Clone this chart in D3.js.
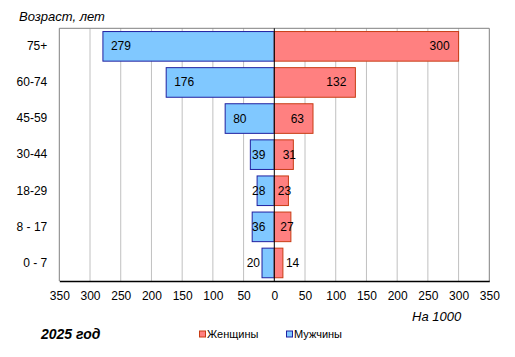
<!DOCTYPE html>
<html><head><meta charset="utf-8">
<script src="https://cdn.jsdelivr.net/npm/d3@7"></script>
<style>body{margin:0;background:#fff}svg{display:block;font-family:"Liberation Sans",Arial,sans-serif}</style>
</head><body>
<svg id="c" width="515" height="357"></svg>
<script>
const categories = ["75+", "60-74", "45-59", "30-44", "18-29", "8 - 17", "0 - 7"];
const women = [300, 132, 63, 31, 23, 27, 14];
const men = [279, 176, 80, 39, 28, 36, 20];
const xTicks = [-350, -300, -250, -200, -150, -100, -50, 0, 50, 100, 150, 200, 250, 300, 350];
const seriesNames = ["Женщины", "Мужчины"];

const svg = d3.select("#c");
const L = 59.3, R = 489.3, T = 28.3, B = 281;
const x = d3.scaleLinear().domain([-350, 350]).range([L, R]);
const y = d3.scaleBand().domain(categories).range([T, B]).paddingInner(0.18).paddingOuter(0.09);
const zero = x(0);

// gridlines
svg.append("g").selectAll("line").data(xTicks.filter(d => d !== 0 && Math.abs(d) !== 350)).join("line")
  .attr("x1", d => x(d)).attr("x2", d => x(d)).attr("y1", T).attr("y2", B)
  .attr("stroke", "#c0c0c0").attr("stroke-width", 1);
// plot border
svg.append("path").attr("d", `M${L},${B}V${T}H${R}V${B}`).attr("fill", "none").attr("stroke", "#808080").attr("stroke-width", 1);

// bars
const maleFill = "#80c8ff", maleStroke = "#2020a0";
const femFill = "#ff8080", femStroke = "#c83c14";
svg.append("g").selectAll("rect").data(categories).join("rect")
  .attr("x", (d, i) => x(-men[i])).attr("width", (d, i) => zero - x(-men[i]))
  .attr("y", d => y(d)).attr("height", y.bandwidth())
  .attr("fill", maleFill).attr("stroke", maleStroke).attr("stroke-width", 1);
svg.append("g").selectAll("rect").data(categories).join("rect")
  .attr("x", zero).attr("width", (d, i) => x(women[i]) - zero)
  .attr("y", d => y(d)).attr("height", y.bandwidth())
  .attr("fill", femFill).attr("stroke", femStroke).attr("stroke-width", 1);

// zero line
svg.append("line").attr("x1", zero).attr("x2", zero).attr("y1", T).attr("y2", B).attr("stroke", "#000").attr("stroke-width", 1);
// bottom axis
const xAxis = d3.axisBottom(x).tickValues(xTicks).tickFormat(d => Math.abs(d)).tickSize(0).tickPadding(10);
const gx = svg.append("g").attr("transform", `translate(0,${B})`).call(xAxis);
gx.select(".domain").attr("stroke", "#000").attr("stroke-width", 1.5);
gx.selectAll("text").attr("font-size", 12).attr("fill", "#000").attr("font-family", "Liberation Sans, Arial, sans-serif");

// y labels
const yAxis = d3.axisLeft(y).tickSize(0).tickPadding(12);
const gy = svg.append("g").attr("transform", `translate(${L},0)`).call(yAxis);
gy.select(".domain").remove();
gy.selectAll("text").attr("font-size", 12).attr("fill", "#000").attr("font-family", "Liberation Sans, Arial, sans-serif");

// value labels
const lab = svg.append("g").attr("font-size", 12).attr("fill", "#000");
categories.forEach((c, i) => {
  const cy = y(c) + y.bandwidth() / 2 + 4;
  const mEnd = x(-men[i]), mLen = zero - mEnd;
  let mx, ma;
  if (mLen >= 40) { mx = mEnd + 8; ma = "start"; }
  else if (mLen >= 15) { mx = zero - 15.5; ma = "middle"; }
  else { mx = mEnd - 2; ma = "end"; }
  lab.append("text").attr("x", mx).attr("y", cy).attr("text-anchor", ma).text(men[i]);
  const fEnd = x(women[i]), fLen = fEnd - zero;
  let fx, fa;
  if (fLen >= 35) { fx = fEnd - 9; fa = "end"; }
  else if (fLen >= 12) { fx = fEnd - 4; fa = "middle"; }
  else { fx = fEnd + 3; fa = "start"; }
  lab.append("text").attr("x", fx).attr("y", cy).attr("text-anchor", fa).text(women[i]);
});

// titles
svg.append("text").attr("x", 19).attr("y", 21).attr("font-size", 13).attr("font-style", "italic").text("Возраст, лет");
svg.append("text").attr("x", 412).attr("y", 321).attr("font-size", 13).attr("font-style", "italic").text("На 1000");
svg.append("text").attr("x", 41).attr("y", 339).attr("font-size", 14).attr("font-style", "italic").attr("font-weight", "bold").text("2025 год");

// legend
const lg = svg.append("g").attr("font-size", 11);
const legendItems = [{name: seriesNames[0], fill: femFill, stroke: femStroke, x: 199.5},
                     {name: seriesNames[1], fill: maleFill, stroke: maleStroke, x: 286.5}];
legendItems.forEach(it => {
  lg.append("rect").attr("x", it.x).attr("y", 331).attr("width", 6).attr("height", 6)
    .attr("fill", it.fill).attr("stroke", it.stroke).attr("stroke-width", 1);
  lg.append("text").attr("x", it.x + 7.5).attr("y", 338).text(it.name);
});
</script>
</body></html>
